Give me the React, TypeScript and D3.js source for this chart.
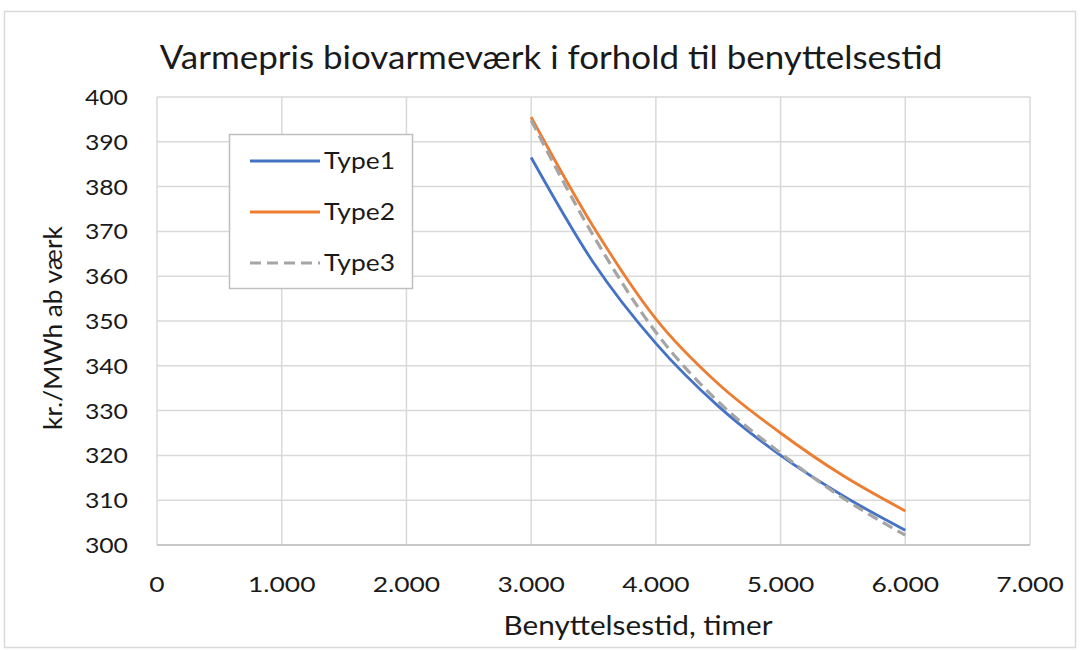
import React from "react";
import * as d3 from "d3";

const hours = [3000, 3500, 4000, 4500, 5000, 5500, 6000];
const type1 = [386.5, 363, 345, 331, 320, 311, 303.3];
const type2 = [395.5, 371, 350.5, 336, 325, 315.5, 307.6];
const type3 = [394.8, 369, 347.5, 332, 320.5, 310.5, 302.2];
const seriesNames = ["Type1", "Type2", "Type3"];
const xTicks = [0, 1000, 2000, 3000, 4000, 5000, 6000, 7000];
const yTicks = [300, 310, 320, 330, 340, 350, 360, 370, 380, 390, 400];
const title = "Varmepris biovarmeværk i forhold til benyttelsestid";
const xTitle = "Benyttelsestid, timer";
const yTitle = "kr./MWh ab værk";

const colors = ["#4472C4", "#ED7D31", "#A5A5A5"];
const FONT = "Lato, 'Open Sans', sans-serif";
const INK = "#1a1a1a";

function T(props: { x: number; y: number; sx: number; size: number; anchor?: string; rotate?: number; children: any }) {
  const { x, y, sx, size, anchor, rotate, children } = props;
  const tr = rotate ? `translate(${x},${y}) rotate(${rotate}) scale(${sx},1)` : `translate(${x},${y}) scale(${sx},1)`;
  return (
    <text transform={tr} textAnchor={anchor || "start"} fontSize={size} fill={INK}>{children}</text>
  );
}

export default function App() {
  const W = 1080, H = 650;
  const left = 157, right = 1030, top = 97, bottom = 545;
  const x = d3.scaleLinear().domain([0, 7000]).range([left, right]);
  const y = d3.scaleLinear().domain([300, 400]).range([bottom, top]);
  const fmt = (v: number) => (v === 0 ? "0" : d3.format(",")(v).replace(/,/g, "."));
  const line = d3
    .line<[number, number]>()
    .x((d) => x(d[0]))
    .y((d) => y(d[1]))
    .curve(d3.curveMonotoneX);
  const data = [type1, type2, type3].map((s) => hours.map((h, i) => [h, s[i]] as [number, number]));

  return (
    <svg width={W} height={H} style={{ position: "absolute", left: 0, top: 0, background: "#fff" }} fontFamily={FONT}>
      <rect x={4.5} y={11.5} width={1071} height={636} fill="#fff" stroke="#d9d9d9" strokeWidth={1.5} />
      <T x={551} y={69} sx={1.06} size={33} anchor="middle">{title}</T>
      {yTicks.map((t) => (
        <line key={"gy" + t} x1={left} x2={right} y1={y(t)} y2={y(t)} stroke="#d9d9d9" strokeWidth={1.5} />
      ))}
      {xTicks.map((t) => (
        <line key={"gx" + t} x1={x(t)} x2={x(t)} y1={top} y2={bottom} stroke="#d9d9d9" strokeWidth={1.5} />
      ))}
      <line x1={left} x2={right} y1={bottom} y2={bottom} stroke="#bfbfbf" strokeWidth={1.5} />
      {yTicks.map((t) => (
        <T key={"ty" + t} x={128} y={y(t) + 8} sx={1.18} size={21} anchor="end">{t}</T>
      ))}
      {xTicks.map((t) => (
        <T key={"tx" + t} x={x(t)} y={592} sx={1.2} size={22} anchor="middle">{fmt(t)}</T>
      ))}
      <T x={638} y={635} sx={1.1} size={27} anchor="middle">{xTitle}</T>
      <T x={62} y={328} sx={1.05} size={25} anchor="middle" rotate={-90}>{yTitle}</T>
      {data.map((d, i) => (
        <path key={"s" + i} d={line(d) || ""} fill="none" stroke={colors[i]} strokeWidth={i === 2 ? 3.2 : 2.8}
          strokeDasharray={i === 2 ? "11,6" : undefined} />
      ))}
      <rect x={229.5} y={134.5} width={183} height={154} fill="#fff" stroke="#bfbfbf" strokeWidth={1.5} />
      {seriesNames.map((n, i) => (
        <g key={"l" + n}>
          <line x1={250} x2={320} y1={161 + i * 51} y2={161 + i * 51} stroke={colors[i]} strokeWidth={i === 2 ? 3.2 : 2.8}
            strokeDasharray={i === 2 ? "11,6" : undefined} />
          <T x={324} y={169 + i * 51} sx={1.1} size={24}>{n}</T>
        </g>
      ))}
    </svg>
  );
}
